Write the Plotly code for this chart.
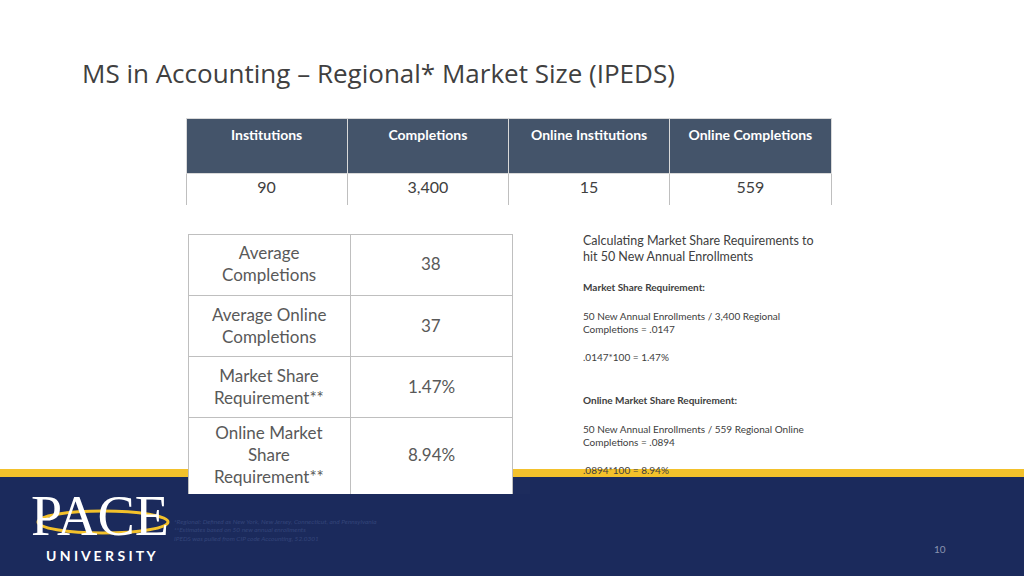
import plotly.graph_objects as go

W, H = 1024, 576
top_headers = ["Institutions", "Completions", "Online Institutions", "Online Completions"]
top_values = ["90", "3,400", "15", "559"]
metric_labels = ["Average<br>Completions", "Average Online<br>Completions",
                 "Market Share<br>Requirement**", "Online Market<br>Share<br>Requirement**"]
metric_values = ["38", "37", "1.47%", "8.94%"]

def px(x): return x / W
def py(y): return 1 - y / H

fig = go.Figure()
fig.add_trace(go.Table(
    domain=dict(x=[px(186), px(831)], y=[py(206), py(118)]),
    columnwidth=[1, 1, 1, 1],
    header=dict(values=[f"<b>{h}</b>" for h in top_headers], fill_color="#44546a",
                line=dict(color="#d9d9d9", width=1), font=dict(color="white", size=14, family="Lato"),
                align="center", height=55),
    cells=dict(values=[[v] for v in top_values], fill_color="white", line=dict(color="#bfbfbf", width=1),
               font=dict(color="#404040", size=16, family="Lato"), align="center", height=32),
))
# metric table grid; blank lines keep row heights, text is drawn centred as annotations
spacer = ["<br>".join([" "] * (lab.count("<br>") + 1)) for lab in metric_labels]
fig.add_trace(go.Table(
    domain=dict(x=[px(188), px(512)], y=[py(494), py(234)]),
    columnwidth=[1, 1],
    header=dict(values=["", ""], height=0, fill_color="white", line_color="white"),
    cells=dict(values=[spacer, [" "] * len(metric_values)], font=dict(size=17),
               fill_color="white", line=dict(color="#bfbfbf", width=1), height=60),
))

shapes = [
    dict(type="rect", xref="paper", yref="paper", x0=0, x1=1, y0=0, y1=py(477),
         fillcolor="#1b2a5c", line_width=0, layer="below"),
    dict(type="rect", xref="paper", yref="paper", x0=0, x1=1, y0=py(477), y1=py(469),
         fillcolor="#f3c12b", line_width=0, layer="below"),
    dict(type="circle", xref="paper", yref="paper", x0=px(38), x1=px(168), y0=py(533), y1=py(511),
         line=dict(color="#f3c12b", width=3), layer="below"),
]
ann = []
def T(x, y, t, size, color="#404040", anchor="left", family="Lato", align="left"):
    ann.append(dict(x=px(x), y=py(y), xref="paper", yref="paper", text=t, showarrow=False,
                    xanchor=anchor, yanchor="middle", align=align,
                    font=dict(size=size, color=color, family=family)))
T(80, 73, "MS in Accounting – Regional* Market Size (IPEDS)", 26, "#404040", family="Open Sans")
row_c = [264, 325, 386, 454]
for lab, val, yc in zip(metric_labels, metric_values, row_c):
    T(269, yc, lab, 17, "#595959", "center", align="center")
    T(431, yc, val, 17, "#595959", "center", align="center")
T(581, 248, "Calculating Market Share Requirements to<br>hit 50 New Annual Enrollments", 12.5, "#404040")
T(581, 287, "<b>Market Share Requirement:</b>", 10)
T(581, 322, "50 New Annual Enrollments / 3,400 Regional<br>Completions = .0147", 10)
T(581, 357, ".0147*100 = 1.47%", 10)
T(581, 400, "<b>Online Market Share Requirement:</b>", 10)
T(581, 435, "50 New Annual Enrollments / 559 Regional Online<br>Completions = .0894", 10)
T(581, 470, ".0894*100 = 8.94%", 10)
T(100, 516, "PACE", 56, "white", "center", "Liberation Serif")
T(101, 555, "<b>U N I V E R S I T Y</b>", 14, "white", "center", "Lato")
T(172, 530, "<i>*Regional: Defined as New York, New Jersey, Connecticut, and Pennsylvania<br>**Estimates based on 50 new annual enrollments<br>IPEDS was pulled from CIP code Accounting, 52.0301</i>",
  6.5, "#34457a")
T(940, 549, "10", 10, "#8a93b0", "center")

fig.update_layout(width=W, height=H, margin=dict(l=0, r=0, t=0, b=0),
                  paper_bgcolor="white", plot_bgcolor="white",
                  shapes=shapes, annotations=ann,
                  xaxis=dict(visible=False), yaxis=dict(visible=False))
fig.write_html("out.html", config={"displayModeBar": False},
               post_script="document.body.style.margin='0';document.body.style.overflow='hidden';")
